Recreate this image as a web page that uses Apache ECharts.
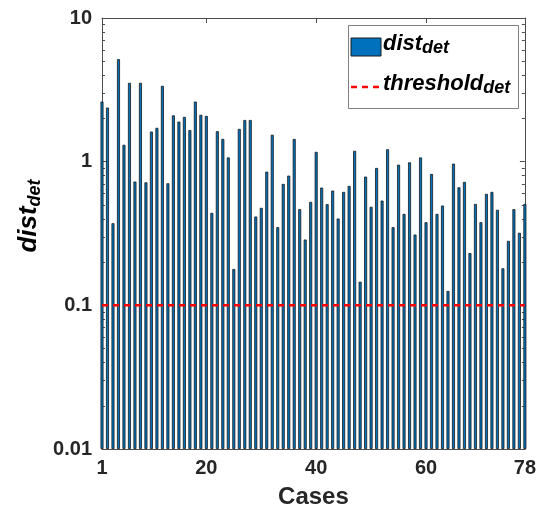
<!DOCTYPE html>
<html>
<head>
<meta charset="utf-8">
<script src="https://cdn.jsdelivr.net/npm/echarts@6/dist/echarts.min.js"></script>
<style>
html,body{margin:0;padding:0;background:#fff;}
#chart{width:539px;height:514px;}
</style>
</head>
<body>
<div id="chart"></div>
<script>
const distDet = [
  2.62, 2.38, 0.373, 5.17, 1.31, 3.54, 0.727, 3.54, 0.718, 1.62,
  1.72, 3.37, 0.707, 2.10, 1.90, 2.05, 1.66, 2.62, 2.12, 2.08,
  0.44, 1.63, 1.44, 1.07, 0.179, 1.69, 1.95, 1.95, 0.415, 0.477,
  0.852, 1.54, 0.35, 0.70, 0.80, 1.44, 0.467, 0.287, 0.525, 1.17,
  0.66, 0.506, 0.629, 0.402, 0.616, 0.678, 1.19, 0.146, 0.787, 0.485,
  0.904, 0.536, 1.22, 0.35, 0.953, 0.433, 0.99, 0.311, 1.07, 0.379,
  0.821, 0.433, 0.495, 0.126, 0.969, 0.663, 0.723, 0.231, 0.508, 0.379,
  0.597, 0.616, 0.462, 0.181, 0.281, 0.467, 0.32, 0.508
];
const cases = distDet.map((_, i) => i + 1);
const thresholdDet = 0.1;
const xTicks = [1, 20, 40, 60, 78];
const yTicks = [0.01, 0.1, 1, 10];
const yMinorTicks = [0.02,0.03,0.04,0.05,0.06,0.07,0.08,0.09,0.2,0.3,0.4,0.5,0.6,0.7,0.8,0.9,2,3,4,5,6,7,8,9];
const xLabel = 'Cases';

const FONT = "'Liberation Sans', Arial, Helvetica, sans-serif";
const AXC = '#4d4d4d';

const chart = echarts.init(document.getElementById('chart'), null, {renderer: 'canvas'});

const barData = cases.map((c, i) => [c, distDet[i]]);
const thrData = [[cases[0], thresholdDet], [cases[cases.length - 1], thresholdDet]];

function xAx(pos, labels) {
  return {
    type: 'value', position: pos, min: cases[0], max: cases[cases.length - 1],
    axisLine: {show: true, onZero: false, lineStyle: {color: AXC, width: 1}},
    axisTick: {show: true, inside: true, length: 5, customValues: xTicks, lineStyle: {color: AXC}},
    axisLabel: {show: labels, customValues: xTicks, margin: 9, color: '#262626',
      fontFamily: FONT, fontWeight: 'bold', fontSize: 20},
    splitLine: {show: false},
    name: labels ? xLabel : '', nameLocation: 'middle', nameGap: 36,
    nameTextStyle: {fontFamily: FONT, fontWeight: 'bold', fontSize: 24, color: '#262626'}
  };
}
function yAx(pos, labels, minor) {
  return {
    type: 'log', logBase: 10, position: pos, min: yTicks[0], max: yTicks[yTicks.length - 1],
    startValue: yTicks[0],
    axisLine: {show: !minor, onZero: false, lineStyle: {color: AXC, width: 1}},
    axisTick: {show: true, inside: true, length: minor ? 3 : 5,
      customValues: minor ? yMinorTicks : yTicks, lineStyle: {color: AXC}},
    axisLabel: {show: labels, customValues: yTicks, margin: 10, color: '#262626',
      fontFamily: FONT, fontWeight: 'bold', fontSize: 20,
      formatter: v => String(+v)},
    splitLine: {show: false}
  };
}

const sub = (main, s, mfs, sfs) => ({
  text: '{m|' + main + '}{s|' + s + '}',
  rich: {
    m: {fontFamily: FONT, fontWeight: 'bold', fontStyle: 'italic', fontSize: mfs, lineHeight: mfs + 2,
        verticalAlign: 'top', fill: '#000'},
    s: {fontFamily: FONT, fontWeight: 'bold', fontStyle: 'italic', fontSize: sfs, lineHeight: sfs + 2,
        padding: [Math.round(mfs * 0.55), 0, 0, 0], verticalAlign: 'bottom', fill: '#000'}
  }
});

chart.setOption({
  animation: false,
  backgroundColor: '#fff',
  grid: {left: 102, right: 12, top: 18, bottom: 64},
  xAxis: [xAx('bottom', true), xAx('top', false)],
  yAxis: [yAx('left', true, false), yAx('right', false, false), yAx('left', false, true), yAx('right', false, true)],
  series: [
    {
      name: 'dist_det', type: 'bar', xAxisIndex: 0, yAxisIndex: 0,
      data: barData, barWidth: 3, clip: true,
      itemStyle: {color: '#0072BD', borderColor: '#1a1a1a', borderWidth: 0.8}
    },
    {
      name: 'threshold_det', type: 'line', xAxisIndex: 0, yAxisIndex: 0,
      data: thrData, symbol: 'none', z: 5,
      lineStyle: {color: '#ff0000', width: 2.5, type: [6, 5]}
    }
  ],
  graphic: [
    {
      type: 'text', x: 30, y: 216, rotation: Math.PI / 2,
      style: Object.assign(sub('dist', 'det', 26, 18), {align: 'center', verticalAlign: 'middle'})
    },
    {type: 'rect', shape: {x: 348.5, y: 25.5, width: 170, height: 83}, style: {fill: '#fff', stroke: '#808080', lineWidth: 1}, z: 10},
    {type: 'rect', shape: {x: 351, y: 38, width: 30, height: 18}, style: {fill: '#0072BD', stroke: '#1a1a1a', lineWidth: 1}, z: 11},
    {type: 'line', shape: {x1: 351, y1: 87, x2: 381, y2: 87}, style: {stroke: '#ff0000', lineWidth: 2.5, lineDash: [6, 5]}, z: 11},
    {type: 'text', x: 383, y: 33, z: 11, style: Object.assign(sub('dist', 'det', 22, 18), {align: 'left', verticalAlign: 'top'})},
    {type: 'text', x: 383, y: 73, z: 11, style: Object.assign(sub('threshold', 'det', 22, 18), {align: 'left', verticalAlign: 'top'})}
  ]
});
</script>
</body>
</html>
